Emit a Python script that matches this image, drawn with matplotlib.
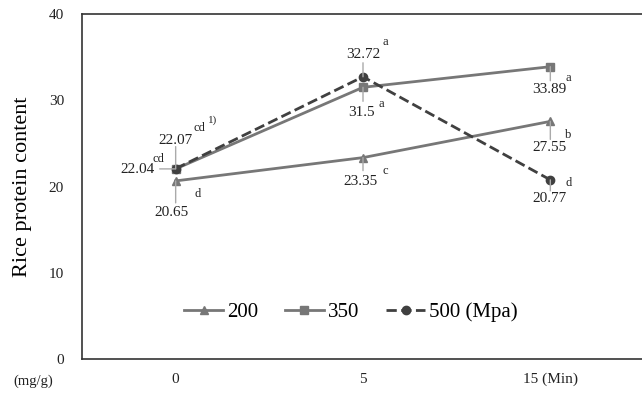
import numpy as np
import matplotlib
matplotlib.use("Agg")
import matplotlib.pyplot as plt

plt.rcParams["font.family"] = ["Liberation Serif", "DejaVu Serif"]

# data
times = ["0", "5", "15 (Min)"]
p200 = [20.65, 23.35, 27.55]
p350 = [22.04, 31.5, 33.89]
p500 = [22.07, 32.72, 20.77]
letters200 = ["d", "c", "b"]
letters350 = ["cd", "a", "a"]
letters500 = ["cd", "a", "d"]

fig = plt.figure(figsize=(6.42, 3.94), dpi=100)
ax = fig.add_axes([82 / 642, 1 - 359 / 394, 562 / 642, 345 / 394])

x = np.arange(len(times))
ax.plot(x, p200, "-", marker="^", color="#777777", lw=2.0, ms=6, label="200")
ax.plot(x, p350, "-", marker="s", color="#777777", lw=2.0, ms=6, label="350")
ax.plot(x, p500, "--", marker="o", color="#404040", lw=2.0, ms=6, label="500 (Mpa)")

# annotations: (x, value, label, letter, text offset px, letter offset px, leader from/to px)
notes = [
    (0, p200[0], "20.65", letters200[0], (-4, -32), (22, -13), (0, -7), (0, -22)),
    (1, p200[1], "23.35", letters200[1], (-2, -24), (22, -13), (0, -5), (0, -13)),
    (2, p200[2], "27.55", letters200[2], (-1, -26), (18, -14), (0, -6), (0, -18)),
    (0, p350[0], "22.04", letters350[0], (-38, -1), (-17, 10), (-6, 0), (-16, 0)),
    (1, p350[1], "31.5", letters350[1], (-1, -25), (18, -17), (0, -6), (0, -14)),
    (2, p350[2], "33.89", letters350[2], (-1, -23), (18, -11), (0, -6), (0, -14)),
    (0, p500[0], "22.07", letters500[0], (0, 28), (24, 41), (0, 4), (0, 22)),
    (1, p500[1], "32.72", letters500[1], (0, 22), (22, 35), (0, 4), (0, 14)),
    (2, p500[2], "20.77", letters500[2], (-1, -19), (18, -3), (0, -5), (0, -11)),
]
for xi, v, lab, let, toff, loff, l0, l1 in notes:
    ax.annotate("", xy=(xi, v), xytext=l1, textcoords="offset pixels",
                arrowprops=dict(arrowstyle="-", color="#aaaaaa", lw=1.0,
                                shrinkA=0, shrinkB=0))
    ax.annotate(lab, xy=(xi, v), xytext=toff, textcoords="offset pixels",
                ha="center", va="center", fontsize=11, color="#222222")
    ax.annotate(let, xy=(xi, v), xytext=loff, textcoords="offset pixels",
                ha="center", va="center", fontsize=9, color="#222222")

# footnote marker
ax.annotate("1)", xy=(0, p500[0]), xytext=(37, 48), textcoords="offset pixels",
            ha="center", va="center", fontsize=8, color="#222222")

ax.set_xlim(-0.5, 2.5)
ax.set_ylim(0, 40)
ax.set_yticks([0, 10, 20, 30, 40])
ax.set_xticks(x)
ax.set_xticklabels(times)
ax.tick_params(axis="both", length=0, labelsize=11, colors="#222222")
ax.tick_params(axis="x", pad=10)
ax.tick_params(axis="y", pad=13)
ax.spines["right"].set_visible(False)
for s in ["left", "top", "bottom"]:
    ax.spines[s].set_color("#333333")
    ax.spines[s].set_linewidth(1.2)

ax.set_ylabel("Rice protein content", fontsize=16, labelpad=12)
fig.text(33 / 642, 1 - 381 / 394, "(mg/g)", ha="center", va="center",
         fontsize=10.5, color="#222222")

ax.legend(loc="center", bbox_to_anchor=(351 / 642, 1 - 312 / 394),
          bbox_transform=fig.transFigure, ncol=3, frameon=False,
          fontsize=15, handlelength=1.85, columnspacing=1.3, handletextpad=0.2)

fig.savefig("out.png", dpi=100)
